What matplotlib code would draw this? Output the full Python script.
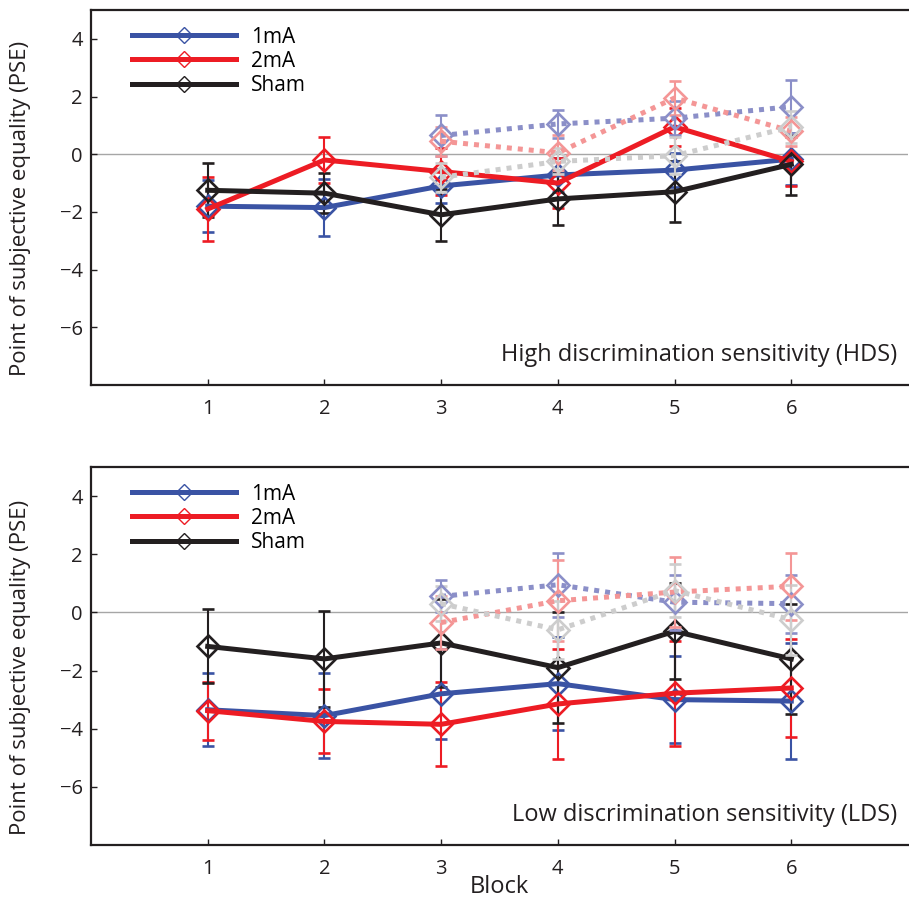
import matplotlib
matplotlib.use("Agg")
import matplotlib.pyplot as plt
from matplotlib.lines import Line2D

plt.rcParams['font.family'] = ['Open Sans', 'DejaVu Sans']

blocks = [1, 2, 3, 4, 5, 6]
blocks_late = [3, 4, 5, 6]

# High discrimination sensitivity (HDS)
hds_1mA = [-1.8, -1.85, -1.1, -0.72, -0.55, -0.17]
hds_1mA_err = [0.9, 1.0, 0.6, 0.6, 0.6, 0.9]
hds_2mA = [-1.9, -0.2, -0.6, -1.0, 0.95, -0.25]
hds_2mA_err = [1.1, 0.8, 0.8, 0.86, 0.65, 0.85]
hds_sham = [-1.25, -1.35, -2.1, -1.55, -1.3, -0.35]
hds_sham_err = [0.94, 0.7, 0.9, 0.9, 1.05, 1.05]
hds_1mA_f = [0.65, 1.05, 1.25, 1.65]
hds_1mA_f_err = [0.7, 0.5, 0.6, 0.93]
hds_2mA_f = [0.45, 0.05, 1.95, 0.8]
hds_2mA_f_err = [0.5, 0.6, 0.6, 0.5]
hds_sham_f = [-0.8, -0.25, -0.05, 0.95]
hds_sham_f_err = [0.5, 0.45, 0.65, 0.55]

# Low discrimination sensitivity (LDS)
lds_1mA = [-3.35, -3.55, -2.8, -2.45, -3.0, -3.05]
lds_1mA_err = [1.25, 1.45, 1.55, 1.6, 1.5, 2.0]
lds_2mA = [-3.38, -3.75, -3.85, -3.15, -2.78, -2.6]
lds_2mA_err = [1.0, 1.1, 1.45, 1.9, 1.8, 1.7]
lds_sham = [-1.17, -1.6, -1.05, -1.9, -0.65, -1.6]
lds_sham_err = [1.27, 1.65, 1.5, 1.9, 1.65, 1.9]
lds_1mA_f = [0.55, 0.95, 0.35, 0.3]
lds_1mA_f_err = [0.55, 1.1, 0.95, 1.0]
lds_2mA_f = [-0.35, 0.4, 0.7, 0.9]
lds_2mA_f_err = [0.9, 1.4, 1.2, 1.15]
lds_sham_f = [0.3, -0.6, 0.75, -0.25]
lds_sham_f_err = [0.6, 1.0, 0.9, 1.2]

labels = ['1mA', '2mA', 'Sham']
colors = ['#3A53A4', '#ED1C24', '#231F20']
faded = ['#8B8FC8', '#F49696', '#CDCDCD']
yticks = [-6, -4, -2, 0, 2, 4]

fig = plt.figure(figsize=(9.09, 9.01), dpi=100)
ax1 = fig.add_axes([91/909, 1-385/901, 817/909, 375/901])
ax2 = fig.add_axes([91/909, 1-845/901, 817/909, 378/901])

panels = [
    (ax1, [hds_1mA, hds_2mA, hds_sham], [hds_1mA_err, hds_2mA_err, hds_sham_err],
     [hds_1mA_f, hds_2mA_f, hds_sham_f], [hds_1mA_f_err, hds_2mA_f_err, hds_sham_f_err],
     'High discrimination sensitivity (HDS)'),
    (ax2, [lds_1mA, lds_2mA, lds_sham], [lds_1mA_err, lds_2mA_err, lds_sham_err],
     [lds_1mA_f, lds_2mA_f, lds_sham_f], [lds_1mA_f_err, lds_2mA_f_err, lds_sham_f_err],
     'Low discrimination sensitivity (LDS)'),
]

for ax, main, main_err, late, late_err, title in panels:
    ax.axhline(0, color='#A6A6A6', lw=1.0, zorder=1)
    for vals, errs, c in zip(main, main_err, colors):
        ax.errorbar(blocks, vals, yerr=errs, color=c, lw=3.6, marker='D', ms=11.5,
                    mfc='none', mec=c, mew=1.9, elinewidth=1.5, capsize=4,
                    capthick=2.2, zorder=3)
    for vals, errs, c in zip(late, late_err, faded):
        eb = ax.errorbar(blocks_late, vals, yerr=errs, color=c, lw=3.6, marker='D', ms=11.5,
                         mfc='none', mec=c, mew=1.9, elinewidth=1.5, capsize=4,
                         capthick=2.2, zorder=4)
        eb.lines[0].set_dashes((1.0, 1.2))
    ax.set_xlim(0, 7)
    ax.set_ylim(-8, 5)
    ax.set_xticks(blocks)
    ax.set_yticks(yticks)
    ax.tick_params(direction='in', length=4, width=1, labelsize=14.5, colors='#231F20')
    ax.tick_params(axis='x', pad=10)
    ax.tick_params(axis='y', pad=6)
    for s in ['left', 'bottom', 'top']:
        ax.spines[s].set_linewidth(1.6)
        ax.spines[s].set_color('#231F20')
    ax.spines['right'].set_visible(False)
    ax.set_ylabel('Point of subjective equality (PSE)', fontsize=16, color='#231F20')
    ax.yaxis.set_label_coords(-0.073, 0.47)
    ax.text(0.987, 0.08, title, transform=ax.transAxes, ha='right', va='center',
            fontsize=17, color='#231F20')
    handles = [Line2D([], [], color=c, lw=3.6, marker='D', ms=8.5, mfc='none',
                      mec=c, mew=1.0) for c in colors]
    ax.legend(handles, labels, loc='upper left', bbox_to_anchor=(0.045, 0.967),
              frameon=False, fontsize=15, handlelength=5.0, handletextpad=0.72,
              labelspacing=0.15, borderpad=0.2, borderaxespad=0)

ax2.set_xlabel('Block', fontsize=17, color='#231F20')
ax2.xaxis.set_label_coords(0.5, -0.08)

fig.savefig('out.png', dpi=100)
